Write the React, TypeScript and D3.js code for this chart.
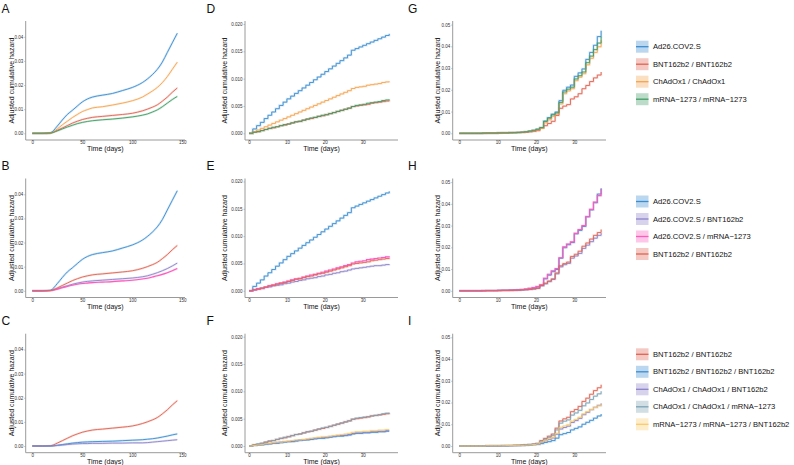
import * as d3 from "d3";
import { useEffect, useRef } from "react";

const width = 794;
const height = 465;
const font = "'Liberation Sans', Arial, Helvetica, sans-serif";
const axisColor = "#9a9a9a";

// colours
const cBlue = "#3a8dd0";
const cRed = "#e06352";
const cOrange = "#f4a450";
const cGreen = "#3e9c63";
const cPurple = "#8b82c9";
const cPink = "#fb5cbd";
const cGreyBlue = "#7aa3b5";
const cYellow = "#fbcb6a";

// long follow-up (panels A-C), days
const daysLong = [0, 10, 18, 25, 30, 35, 40, 45, 50, 55, 60, 70, 80, 90, 100, 110, 115, 120, 125, 130, 135, 140, 145];
const adLong = [0, 0, 0.0002, 0.003, 0.0055, 0.0078, 0.0095, 0.0113, 0.013, 0.0142, 0.015, 0.0158, 0.0165, 0.0177, 0.019, 0.021, 0.0225, 0.0243, 0.0265, 0.0295, 0.0335, 0.0375, 0.0415];
const bbLong = [0, 0, 0.0001, 0.0012, 0.0022, 0.0032, 0.0042, 0.005, 0.0057, 0.0062, 0.0066, 0.007, 0.0074, 0.0078, 0.0083, 0.0093, 0.01, 0.0108, 0.0118, 0.0133, 0.015, 0.017, 0.0188];
const ccLong = [0, 0, 0.0001, 0.0018, 0.0035, 0.005, 0.0065, 0.0078, 0.009, 0.0098, 0.0105, 0.011, 0.0117, 0.0125, 0.0135, 0.015, 0.0162, 0.0175, 0.019, 0.021, 0.0235, 0.0265, 0.0295];
const mmLong = [0, 0, 0.0001, 0.001, 0.0018, 0.0026, 0.0033, 0.004, 0.0045, 0.0049, 0.0052, 0.0056, 0.0059, 0.0063, 0.0068, 0.0075, 0.008, 0.0088, 0.0097, 0.011, 0.0125, 0.014, 0.0153];
const abLong = [0, 0, 0.0001, 0.0008, 0.0015, 0.0021, 0.0027, 0.0032, 0.0036, 0.0039, 0.0041, 0.0044, 0.0047, 0.005, 0.0053, 0.0058, 0.0062, 0.0068, 0.0075, 0.0083, 0.0092, 0.0103, 0.0115];
const amLong = [0, 0, 0.0001, 0.0007, 0.0013, 0.0018, 0.0023, 0.0027, 0.003, 0.0032, 0.0034, 0.0036, 0.0038, 0.0041, 0.0044, 0.0049, 0.0052, 0.0057, 0.0062, 0.0068, 0.0075, 0.0083, 0.0092];
const bbbLong = [0, 0, 0, 0.0003, 0.0006, 0.0009, 0.0012, 0.0014, 0.0016, 0.0017, 0.0018, 0.0019, 0.002, 0.0022, 0.0024, 0.0026, 0.0028, 0.003, 0.0033, 0.0037, 0.0041, 0.0046, 0.005];
const ccbLong = [0, 0, 0, 0.0002, 0.0004, 0.0006, 0.0008, 0.0009, 0.001, 0.001, 0.0011, 0.0011, 0.0012, 0.0012, 0.0013, 0.0013, 0.0014, 0.0016, 0.0018, 0.002, 0.0022, 0.0024, 0.0026];

// short follow-up (panels D-I), days 0..37
const daysShort = [0, 1, 2, 3, 4, 5, 6, 7, 8, 9, 10, 11, 12, 13, 14, 15, 16, 17, 18, 19, 20, 21, 22, 23, 24, 25, 26, 27, 28, 29, 30, 31, 32, 33, 34, 35, 36, 37];
// D-F
const adD = [0, 0.0008, 0.0014, 0.002, 0.0027, 0.0033, 0.0039, 0.0045, 0.0051, 0.0057, 0.0063, 0.0068, 0.0073, 0.0078, 0.0083, 0.0088, 0.0093, 0.0098, 0.0103, 0.0108, 0.0113, 0.0118, 0.0123, 0.0128, 0.0133, 0.0138, 0.0143, 0.0152, 0.0155, 0.0158, 0.0161, 0.0164, 0.0167, 0.017, 0.0173, 0.0176, 0.0179, 0.0182];
const ccD = [0, 0.0003, 0.0006, 0.0009, 0.0012, 0.0015, 0.0018, 0.0021, 0.0024, 0.0027, 0.003, 0.0033, 0.0036, 0.0039, 0.0042, 0.0045, 0.0048, 0.0051, 0.0054, 0.0057, 0.006, 0.0063, 0.0066, 0.0069, 0.0072, 0.0075, 0.0078, 0.0082, 0.0084, 0.0085, 0.0086, 0.0088, 0.0089, 0.009, 0.0091, 0.0093, 0.0094, 0.0095];
const bbD = [0, 0.0002, 0.0003, 0.0005, 0.0007, 0.0009, 0.001, 0.0012, 0.0014, 0.0015, 0.0017, 0.0019, 0.0021, 0.0022, 0.0024, 0.0026, 0.0027, 0.0029, 0.0031, 0.0032, 0.0034, 0.0036, 0.0038, 0.004, 0.0042, 0.0044, 0.0046, 0.0049, 0.005, 0.0051, 0.0052, 0.0053, 0.0055, 0.0056, 0.0057, 0.0058, 0.0059, 0.006];
const mmD = [0, 0.0002, 0.0003, 0.0005, 0.0007, 0.0009, 0.0011, 0.0012, 0.0014, 0.0016, 0.0017, 0.0019, 0.0021, 0.0022, 0.0024, 0.0026, 0.0028, 0.0029, 0.0031, 0.0033, 0.0034, 0.0036, 0.0038, 0.004, 0.0042, 0.0044, 0.0046, 0.0049, 0.0051, 0.0052, 0.0053, 0.0055, 0.0056, 0.0057, 0.0058, 0.006, 0.0061, 0.0062];
const abE = [0, 0.0001, 0.0003, 0.0004, 0.0006, 0.0007, 0.0009, 0.001, 0.0011, 0.0013, 0.0014, 0.0016, 0.0017, 0.0019, 0.002, 0.0022, 0.0023, 0.0024, 0.0026, 0.0027, 0.0029, 0.003, 0.0032, 0.0033, 0.0035, 0.0036, 0.0038, 0.004, 0.0041, 0.0042, 0.0043, 0.0044, 0.0045, 0.0046, 0.0046, 0.0047, 0.0048, 0.0049];
const amE = [0, 0.0002, 0.0004, 0.0005, 0.0007, 0.0009, 0.0011, 0.0013, 0.0014, 0.0016, 0.0018, 0.002, 0.0022, 0.0023, 0.0025, 0.0027, 0.0029, 0.003, 0.0032, 0.0034, 0.0036, 0.0038, 0.004, 0.0042, 0.0044, 0.0046, 0.0048, 0.0051, 0.0053, 0.0054, 0.0055, 0.0057, 0.0058, 0.0059, 0.006, 0.0061, 0.0062, 0.0063];
const bbbF = [0, 0.0001, 0.0002, 0.0002, 0.0003, 0.0004, 0.0005, 0.0005, 0.0006, 0.0007, 0.0008, 0.0008, 0.0009, 0.001, 0.0011, 0.0011, 0.0012, 0.0013, 0.0014, 0.0014, 0.0015, 0.0016, 0.0017, 0.0018, 0.0018, 0.0019, 0.002, 0.0022, 0.0023, 0.0023, 0.0024, 0.0024, 0.0025, 0.0025, 0.0026, 0.0026, 0.0027, 0.0027];
const ccbF = [0, 0.0001, 0.0002, 0.0003, 0.0004, 0.0004, 0.0005, 0.0006, 0.0007, 0.0008, 0.0008, 0.0009, 0.001, 0.0011, 0.0011, 0.0012, 0.0013, 0.0014, 0.0015, 0.0015, 0.0016, 0.0017, 0.0018, 0.0019, 0.0019, 0.002, 0.0021, 0.0023, 0.0024, 0.0024, 0.0025, 0.0025, 0.0026, 0.0026, 0.0027, 0.0027, 0.0028, 0.0028];
const ccmF = [0, 0.0002, 0.0004, 0.0005, 0.0007, 0.0009, 0.001, 0.0012, 0.0014, 0.0016, 0.0017, 0.0019, 0.0021, 0.0022, 0.0024, 0.0026, 0.0027, 0.0029, 0.0031, 0.0033, 0.0034, 0.0036, 0.0038, 0.004, 0.0042, 0.0044, 0.0046, 0.0049, 0.0051, 0.0052, 0.0053, 0.0054, 0.0055, 0.0056, 0.0057, 0.0059, 0.006, 0.0061];
const mmbF = [0, 0.0001, 0.0002, 0.0003, 0.0004, 0.0005, 0.0006, 0.0007, 0.0007, 0.0008, 0.0009, 0.001, 0.0011, 0.0011, 0.0012, 0.0013, 0.0014, 0.0015, 0.0016, 0.0017, 0.0017, 0.0018, 0.0019, 0.002, 0.0021, 0.0022, 0.0023, 0.0025, 0.0026, 0.0026, 0.0027, 0.0027, 0.0028, 0.0028, 0.0029, 0.0029, 0.003, 0.003];
// G-I
const adG = [0, 0, 0, 0, 0, 0, 0.0001, 0.0001, 0.0001, 0.0001, 0.0002, 0.0002, 0.0002, 0.0003, 0.0003, 0.0004, 0.0005, 0.0007, 0.001, 0.0013, 0.0018, 0.0025, 0.0055, 0.0072, 0.0088, 0.0098, 0.015, 0.0198, 0.0212, 0.0222, 0.0262, 0.0278, 0.0296, 0.034, 0.0372, 0.0405, 0.0445, 0.0472];
const mmG = [0, 0, 0, 0, 0, 0, 0.0001, 0.0001, 0.0001, 0.0001, 0.0002, 0.0002, 0.0002, 0.0003, 0.0003, 0.0004, 0.0005, 0.0007, 0.001, 0.0014, 0.0019, 0.0026, 0.0056, 0.007, 0.0085, 0.0094, 0.0142, 0.019, 0.0203, 0.0212, 0.025, 0.0265, 0.0282, 0.0325, 0.0355, 0.0385, 0.0415, 0.0445];
const ccG = [0, 0, 0, 0, 0, 0, 0.0001, 0.0001, 0.0001, 0.0001, 0.0002, 0.0002, 0.0002, 0.0003, 0.0003, 0.0004, 0.0005, 0.0007, 0.0009, 0.0012, 0.0016, 0.0022, 0.0048, 0.0062, 0.0078, 0.0088, 0.0135, 0.0182, 0.0195, 0.0205, 0.0242, 0.0258, 0.0274, 0.0315, 0.0345, 0.0372, 0.0398, 0.0428];
const bbG = [0, 0, 0, 0, 0, 0, 0, 0.0001, 0.0001, 0.0001, 0.0001, 0.0002, 0.0002, 0.0002, 0.0003, 0.0003, 0.0004, 0.0005, 0.0007, 0.0009, 0.0012, 0.0025, 0.0035, 0.0045, 0.0055, 0.0082, 0.0115, 0.0125, 0.0132, 0.0158, 0.0168, 0.0182, 0.0205, 0.022, 0.0238, 0.0255, 0.0268, 0.0282];
const amH = [0, 0, 0, 0, 0, 0, 0.0001, 0.0001, 0.0001, 0.0001, 0.0002, 0.0002, 0.0002, 0.0003, 0.0003, 0.0004, 0.0006, 0.0008, 0.0011, 0.0015, 0.002, 0.0028, 0.0058, 0.0076, 0.0092, 0.0102, 0.0152, 0.0202, 0.0215, 0.0225, 0.0265, 0.0282, 0.03, 0.0342, 0.0375, 0.0408, 0.0438, 0.0468];
const abH = [0, 0, 0, 0, 0, 0, 0, 0.0001, 0.0001, 0.0001, 0.0001, 0.0002, 0.0002, 0.0002, 0.0003, 0.0003, 0.0004, 0.0005, 0.0006, 0.0008, 0.0011, 0.0023, 0.0032, 0.0042, 0.0052, 0.0078, 0.011, 0.012, 0.0126, 0.015, 0.016, 0.0172, 0.0195, 0.021, 0.0226, 0.0242, 0.0255, 0.0265];
const ccmI = [0, 0, 0, 0, 0, 0, 0, 0.0001, 0.0001, 0.0001, 0.0001, 0.0002, 0.0002, 0.0002, 0.0003, 0.0003, 0.0004, 0.0005, 0.0006, 0.0008, 0.0011, 0.0022, 0.0031, 0.004, 0.0049, 0.0074, 0.0105, 0.0114, 0.012, 0.0142, 0.0152, 0.0164, 0.0185, 0.0198, 0.0214, 0.0229, 0.024, 0.0252];
const ccbI = [0, 0, 0, 0, 0, 0, 0, 0.0001, 0.0001, 0.0001, 0.0001, 0.0001, 0.0002, 0.0002, 0.0002, 0.0003, 0.0003, 0.0004, 0.0005, 0.0007, 0.0009, 0.0017, 0.0024, 0.003, 0.0037, 0.0054, 0.0078, 0.0085, 0.0091, 0.0108, 0.0117, 0.0127, 0.0144, 0.0155, 0.0167, 0.0178, 0.0187, 0.0196];
const mmbI = [0, 0, 0, 0, 0, 0, 0, 0.0001, 0.0001, 0.0001, 0.0001, 0.0001, 0.0002, 0.0002, 0.0002, 0.0003, 0.0003, 0.0004, 0.0005, 0.0007, 0.0009, 0.0018, 0.0026, 0.0033, 0.004, 0.0058, 0.0086, 0.0092, 0.0098, 0.0114, 0.0122, 0.0132, 0.0148, 0.0158, 0.0168, 0.0177, 0.0185, 0.0192];
const bbbI = [0, 0, 0, 0, 0, 0, 0, 0, 0.0001, 0.0001, 0.0001, 0.0001, 0.0001, 0.0002, 0.0002, 0.0002, 0.0003, 0.0004, 0.0005, 0.0006, 0.0007, 0.0011, 0.0016, 0.002, 0.0025, 0.0036, 0.0052, 0.0057, 0.0062, 0.0074, 0.0081, 0.0088, 0.01, 0.0109, 0.0118, 0.0128, 0.0138, 0.0147];

// tick labels
const xTicksLong = [0, 50, 100, 150];
const xTicksShort = [0, 10, 20, 30];
const yTicks1 = [0, 0.01, 0.02, 0.03, 0.04];
const yTicks2 = [0, 0.005, 0.01, 0.015, 0.02];
const yTicks3 = [0, 0.01, 0.02, 0.03, 0.04, 0.05];

// legend groups
const groups1 = ["Ad26.COV2.S", "BNT162b2 / BNT162b2", "ChAdOx1 / ChAdOx1", "mRNA\u22121273 / mRNA\u22121273"];
const groups2 = ["Ad26.COV2.S", "Ad26.COV2.S / BNT162b2", "Ad26.COV2.S / mRNA\u22121273", "BNT162b2 / BNT162b2"];
const groups3 = ["BNT162b2 / BNT162b2", "BNT162b2 / BNT162b2 / BNT162b2", "ChAdOx1 / ChAdOx1 / BNT162b2", "ChAdOx1 / ChAdOx1 / mRNA\u22121273", "mRNA\u22121273 / mRNA\u22121273 / BNT162b2"];
const colors1 = [cBlue, cRed, cOrange, cGreen];
const colors2 = [cBlue, cPurple, cPink, cRed];
const colors3 = [cRed, cBlue, cPurple, cGreyBlue, cYellow];

type Series = { color: string; values: number[] };

const cols = [
  { left: 25.7, right: 185, xDom: [0, 150], xRng: [32.3, 182.3], xTicks: xTicksLong, yTicks: yTicks1, yPx: 96.5, fmt: ".2f", titleX: 11.7, letterX: 1.5 },
  { left: 245, right: 398, xDom: [0, 30], xRng: [249, 362.7], xTicks: xTicksShort, yTicks: yTicks2, yPx: 109.3, fmt: ".3f", titleX: 224, letterX: 206.5 },
  { left: 452.7, right: 606, xDom: [0, 30], xRng: [459.3, 574.3], xTicks: xTicksShort, yTicks: yTicks3, yPx: 108.7, fmt: ".2f", titleX: 437.7, letterX: 408 },
];
const rowOffsets = [0, 157.5, 312.7];

const Panel = ({ col, row, letter, days, series, step }: { col: number; row: number; letter: string; days: number[]; series: Series[]; step: boolean }) => {
  const gx = useRef<any>(null);
  const gy = useRef<any>(null);
  const c = cols[col];
  const off = rowOffsets[row];
  const yMax = c.yTicks[c.yTicks.length - 1];
  const x = d3.scaleLinear(c.xDom, c.xRng);
  const y = d3.scaleLinear([0, yMax], [off + 133.3, off + 133.3 - c.yPx]);
  const line = d3.line<number>()
    .x((d, i) => x(days[i]))
    .y((d) => y(d))
    .curve(step ? d3.curveStepAfter : d3.curveMonotoneX);

  useEffect(() => {
    d3.select(gx.current)
      .call(d3.axisBottom(x).tickValues(c.xTicks).tickSize(1.2).tickPadding(0))
      .call((g: any) => {
        g.attr("font-size", 4.5).attr("font-family", font);
        g.select(".domain").remove();
        g.selectAll("line").attr("stroke", axisColor).attr("stroke-width", 0.6);
        g.selectAll("text").attr("fill", "#333");
      });
    d3.select(gy.current)
      .call(d3.axisLeft(y).tickValues(c.yTicks).tickFormat(d3.format(c.fmt)).tickSize(1.5).tickPadding(1))
      .call((g: any) => {
        g.attr("font-size", 4.5).attr("font-family", font);
        g.select(".domain").remove();
        g.selectAll("line").attr("stroke", axisColor).attr("stroke-width", 0.6);
        g.selectAll("text").attr("fill", "#333");
      });
  }, [gx, gy]);

  return (
    <g>
      <text x={c.letterX} y={off + 12.5} fontSize={12} fontFamily={font} fill="#111">{letter}</text>
      {series.map((s, i) => (
        <path key={"h" + i} d={line(s.values) as string} fill="none" stroke={s.color} strokeOpacity={0.2} strokeWidth={2.2} />
      ))}
      {series.map((s, i) => (
        <path key={"l" + i} d={line(s.values) as string} fill="none" stroke={s.color} strokeWidth={s.color === cPink ? 1.1 : 0.9} />
      ))}
      <line x1={c.left} x2={c.left} y1={off + 21} y2={off + 140} stroke={axisColor} strokeWidth={1} />
      <line x1={c.left} x2={c.right} y1={off + 140} y2={off + 140} stroke={axisColor} strokeWidth={1} />
      <g ref={gx} transform={`translate(0,${off + 140})`} />
      <g ref={gy} transform={`translate(${c.left},0)`} />
      <text x={(c.left + c.right) / 2} y={off + 151} textAnchor="middle" fontSize={7} fontFamily={font} fill="#111">Time (days)</text>
      <text transform={`translate(${c.titleX},${off + 80.5}) rotate(-90)`} textAnchor="middle" dominantBaseline="central" fontSize={7} fontFamily={font} fill="#111">Adjusted cumulative hazard</text>
    </g>
  );
};

const Legend = ({ top, labels, colors }: { top: number; labels: string[]; colors: string[] }) => (
  <g>
    {labels.map((l, i) => {
      const cy = top + i * 17.5;
      return (
        <g key={l}>
          <rect x={636} y={cy - 6} width={12.5} height={12} fill={colors[i]} fillOpacity={0.35} />
          <line x1={636} x2={648.5} y1={cy} y2={cy} stroke={colors[i]} strokeWidth={1.3} />
          <text x={653} y={cy + 2.6} fontSize={7.6} fontFamily={font} fill="#111">{l}</text>
        </g>
      );
    })}
  </g>
);

const App = () => (
  <svg width={width} height={height} style={{ position: "absolute", left: 0, top: 0, background: "#fff" }}>
    <Panel col={0} row={0} letter="A" days={daysLong} step={false}
      series={[{ color: cBlue, values: adLong }, { color: cRed, values: bbLong }, { color: cOrange, values: ccLong }, { color: cGreen, values: mmLong }]} />
    <Panel col={0} row={1} letter="B" days={daysLong} step={false}
      series={[{ color: cBlue, values: adLong }, { color: cPurple, values: abLong }, { color: cPink, values: amLong }, { color: cRed, values: bbLong }]} />
    <Panel col={0} row={2} letter="C" days={daysLong} step={false}
      series={[{ color: cRed, values: bbLong }, { color: cBlue, values: bbbLong }, { color: cPurple, values: ccbLong }]} />
    <Panel col={1} row={0} letter="D" days={daysShort} step={true}
      series={[{ color: cBlue, values: adD }, { color: cRed, values: bbD }, { color: cOrange, values: ccD }, { color: cGreen, values: mmD }]} />
    <Panel col={1} row={1} letter="E" days={daysShort} step={true}
      series={[{ color: cBlue, values: adD }, { color: cPurple, values: abE }, { color: cPink, values: amE }, { color: cRed, values: bbD }]} />
    <Panel col={1} row={2} letter="F" days={daysShort} step={true}
      series={[{ color: cRed, values: bbD }, { color: cBlue, values: bbbF }, { color: cPurple, values: ccbF }, { color: cGreyBlue, values: ccmF }, { color: cYellow, values: mmbF }]} />
    <Panel col={2} row={0} letter="G" days={daysShort} step={true}
      series={[{ color: cBlue, values: adG }, { color: cRed, values: bbG }, { color: cOrange, values: ccG }, { color: cGreen, values: mmG }]} />
    <Panel col={2} row={1} letter="H" days={daysShort} step={true}
      series={[{ color: cBlue, values: adG }, { color: cPurple, values: abH }, { color: cPink, values: amH }, { color: cRed, values: bbG }]} />
    <Panel col={2} row={2} letter="I" days={daysShort} step={true}
      series={[{ color: cRed, values: bbG }, { color: cBlue, values: bbbI }, { color: cPurple, values: ccbI }, { color: cGreyBlue, values: ccmI }, { color: cYellow, values: mmbI }]} />
    <Legend top={46.7} labels={groups1} colors={colors1} />
    <Legend top={201.5} labels={groups2} colors={colors2} />
    <Legend top={354.3} labels={groups3} colors={colors3} />
  </svg>
);

export default App;
